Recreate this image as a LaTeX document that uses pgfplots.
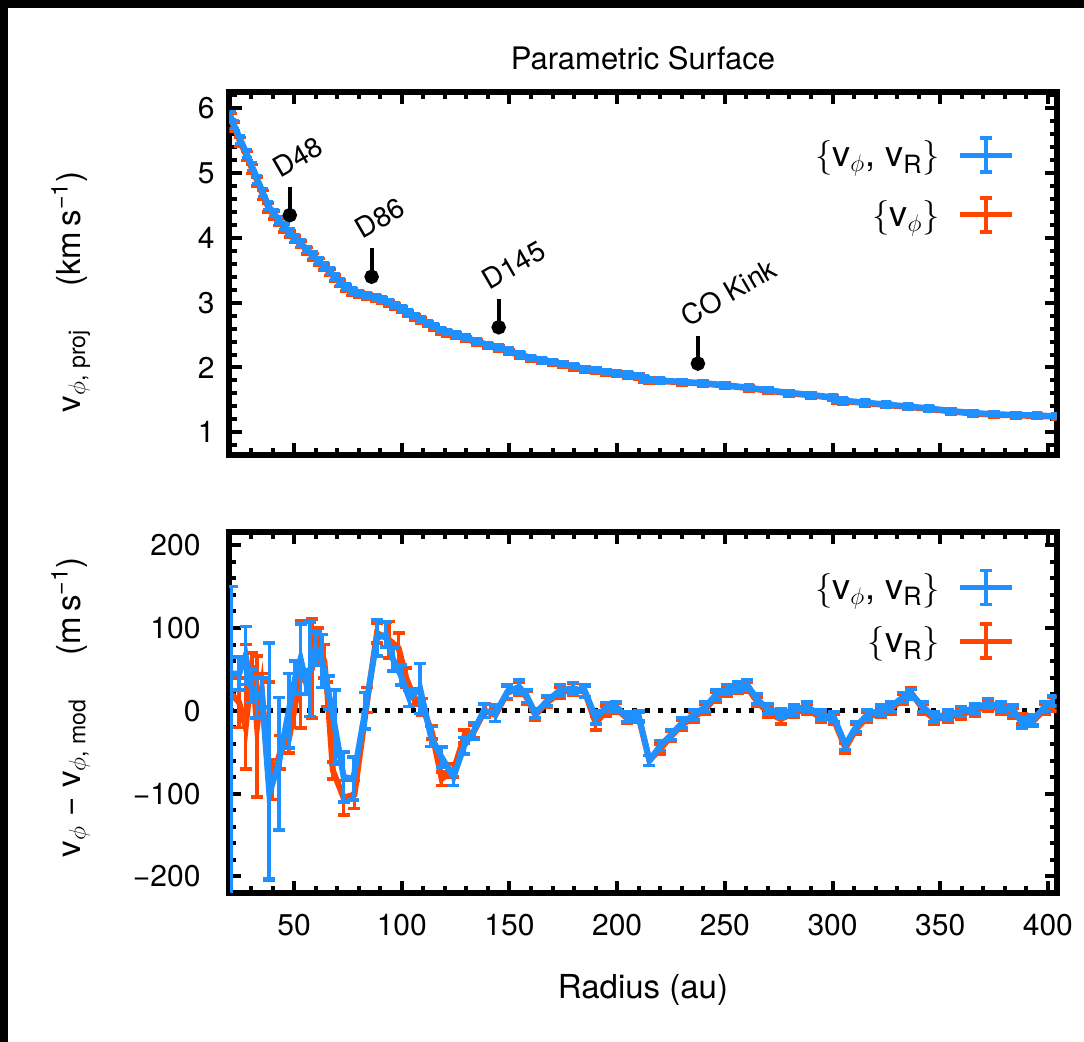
\documentclass[border=0pt]{standalone}
\usepackage{fontspec}
\setmainfont{TeX Gyre Heros}
\usepackage{pgfplots}
\usepackage{pgfplotstable}
\pgfplotsset{compat=1.18}
\definecolor{cblue}{RGB}{30,144,255}
\definecolor{corange}{RGB}{255,69,0}

\pgfplotstableread{
x y ep em
20.5 5.88 0.06 0.06
22 5.75 0.06 0.06
25 5.52 0.06 0.06
28 5.30 0.06 0.06
30.5 5.10 0.06 0.06
33 4.90 0.06 0.06
35.5 4.70 0.06 0.06
38 4.50 0.06 0.06
40.5 4.38 0.05 0.05
43 4.28 0.05 0.05
45.5 4.18 0.05 0.05
48 4.09 0.05 0.05
50.5 4.00 0.05 0.05
53 3.92 0.05 0.05
56 3.82 0.05 0.05
59 3.73 0.05 0.05
61.5 3.65 0.05 0.05
64 3.57 0.05 0.05
66.5 3.49 0.05 0.05
69 3.40 0.05 0.05
71.5 3.32 0.05 0.05
74 3.25 0.05 0.05
77 3.18 0.05 0.05
80 3.15 0.04 0.04
84 3.11 0.04 0.04
88 3.08 0.04 0.04
91 3.05 0.04 0.04
94 3.01 0.04 0.04
97 2.96 0.04 0.04
100 2.91 0.04 0.04
103 2.85 0.04 0.04
106 2.79 0.04 0.04
109 2.74 0.04 0.04
112 2.69 0.04 0.04
115 2.64 0.04 0.04
118 2.58 0.04 0.04
121 2.55 0.04 0.04
125 2.51 0.04 0.04
130 2.46 0.04 0.04
135 2.40 0.04 0.04
140 2.35 0.04 0.04
145 2.31 0.04 0.04
150 2.26 0.04 0.04
155 2.20 0.04 0.04
160 2.15 0.04 0.04
165 2.11 0.04 0.04
170 2.08 0.04 0.04
175 2.05 0.04 0.04
180 2.02 0.04 0.04
185 1.98 0.04 0.04
190 1.96 0.04 0.04
195 1.93 0.04 0.04
200 1.91 0.04 0.04
205 1.89 0.04 0.04
210 1.87 0.04 0.04
212.5 1.83 0.04 0.04
215 1.81 0.04 0.04
220 1.80 0.04 0.04
230 1.78 0.04 0.04
240 1.76 0.04 0.04
250 1.73 0.04 0.04
261 1.69 0.04 0.04
270 1.65 0.04 0.04
280 1.61 0.04 0.04
290 1.58 0.04 0.04
300 1.54 0.04 0.04
302 1.50 0.04 0.04
305 1.49 0.04 0.04
315 1.46 0.04 0.04
325 1.43 0.04 0.04
335 1.40 0.04 0.04
345 1.37 0.04 0.04
355 1.33 0.04 0.04
365 1.30 0.04 0.04
375 1.28 0.04 0.04
385 1.27 0.04 0.04
395 1.26 0.04 0.04
404 1.25 0.04 0.04
}\topblue

\pgfplotstableread{
x y ep em
20.5 5.85 0.07 0.07
22 5.72 0.07 0.07
25 5.48 0.07 0.07
28 5.26 0.07 0.07
30.5 5.06 0.07 0.07
33 4.87 0.07 0.07
35.5 4.66 0.07 0.07
38 4.47 0.07 0.07
40.5 4.35 0.06 0.06
43 4.25 0.06 0.06
45.5 4.15 0.06 0.06
48 4.06 0.05 0.05
50.5 3.98 0.05 0.05
53 3.90 0.05 0.05
56 3.80 0.05 0.05
59 3.71 0.05 0.05
61.5 3.63 0.05 0.05
64 3.55 0.05 0.05
66.5 3.47 0.05 0.05
69 3.38 0.05 0.05
71.5 3.30 0.05 0.05
74 3.23 0.05 0.05
77 3.16 0.05 0.05
80 3.13 0.04 0.04
84 3.09 0.04 0.04
88 3.06 0.04 0.04
91 3.03 0.04 0.04
94 2.99 0.04 0.04
97 2.94 0.04 0.04
100 2.89 0.04 0.04
103 2.83 0.04 0.04
106 2.77 0.04 0.04
109 2.72 0.04 0.04
112 2.67 0.04 0.04
115 2.62 0.04 0.04
118 2.56 0.04 0.04
121 2.53 0.04 0.04
125 2.49 0.04 0.04
130 2.44 0.04 0.04
135 2.38 0.04 0.04
140 2.33 0.04 0.04
145 2.29 0.04 0.04
150 2.24 0.04 0.04
155 2.18 0.04 0.04
160 2.13 0.04 0.04
165 2.10 0.04 0.04
170 2.07 0.04 0.04
175 2.04 0.04 0.04
180 2.00 0.04 0.04
185 1.97 0.04 0.04
190 1.95 0.04 0.04
195 1.92 0.04 0.04
200 1.90 0.04 0.04
205 1.88 0.04 0.04
210 1.86 0.04 0.04
212.5 1.82 0.04 0.04
215 1.80 0.04 0.04
220 1.79 0.04 0.04
230 1.77 0.04 0.04
240 1.75 0.04 0.04
250 1.72 0.04 0.04
261 1.68 0.04 0.04
270 1.64 0.04 0.04
280 1.60 0.04 0.04
290 1.57 0.04 0.04
300 1.53 0.04 0.04
302 1.49 0.04 0.04
305 1.48 0.04 0.04
315 1.45 0.04 0.04
325 1.42 0.04 0.04
335 1.39 0.04 0.04
345 1.36 0.04 0.04
355 1.32 0.04 0.04
365 1.29 0.04 0.04
375 1.27 0.04 0.04
385 1.26 0.04 0.04
395 1.25 0.04 0.04
404 1.24 0.04 0.04
}\toporange

\pgfplotstableread{
x y ep em
21 45 105 270
24.5 45 20 20
27.5 67 35 35
30 30 20 20
32.5 16 25 25
35 22 18 18
38.5 -100 182 103
43 -62 78 82
47.5 0 45 45
50.5 40 20 20
53 63 42 42
55.5 35 15 15
57.5 50 57 57
60 75 20 20
63 60 32 32
66 22 20 20
69 -20 45 45
73 -80 30 30
77.5 -82 26 26
83 0 22 22
88.5 88 22 22
92.5 92 15 15
96 62 14 14
99.5 43 12 12
103.5 15 10 10
108.5 27 30 30
113.5 -31 12 12
118.5 -56 12 12
124 -80 10 10
129 -42 10 10
133.5 -24 10 10
138 0 8 8
143.5 -3 10 10
149 23 8 8
154.5 29 8 8
158 18 8 8
162 -3 6 6
167.5 12 6 6
173.5 25 7 7
179.5 27 7 7
185 24 7 7
190 -8 8 8
195 4 6 6
199.5 5 6 6
204.5 -7 6 6
210 -6 6 6
215 -60 6 6
220 -42 6 6
225 -29 6 6
230 -15 6 6
235.5 -5 6 6
241 5 6 6
246 20 6 6
251 26 6 6
256 29 6 6
260.5 31 6 6
265 14 6 6
270 2 6 6
276 -3 6 6
282 1 6 6
288 5 6 6
294.5 -5 6 6
300.5 -7 6 6
306 -41 6 6
311 -19 6 6
316 -5 6 6
322.5 1 6 6
327 5 6 6
332.5 16 6 6
336.5 20 6 6
342 5 6 6
347 -7 6 6
353.5 -5 6 6
359.5 -1 6 6
366 3 6 6
372 9 6 6
378 5 6 6
384 1 6 6
388 -15 6 6
393 -11 6 6
398.5 5 6 6
402.5 12 6 6
}\botblue

\pgfplotstableread{
x y ep em
21 20 130 250
24.5 10 30 30
27.5 -20 100 50
30.5 55 15 15
32.8 -19 85 85
35 25 20 20
38.3 -85 120 120
40 -83 24 24
43.5 -50 20 20
47.5 -35 16 16
50 0 20 20
53 44 65 65
55.5 35 15 15
58.3 51 60 60
61 80 20 20
64 60 20 20
65.5 20 15 15
68 -72 10 10
73 -105 21 21
78 -101 17 17
84 13 15 15
88.5 94 12 12
94 86 22 22
98.5 76 18 18
102 40 12 12
105.5 17 10 10
109.5 5 10 10
114 -26 8 8
118.5 -82 8 8
124 -72 8 8
129 -31 8 8
133.5 -25 8 8
138.5 0 8 8
143.5 -5 8 8
149 22 8 8
154.5 27 8 8
158 16 8 8
162 -5 6 6
167.5 10 6 6
173.5 22 7 7
179.5 26 7 7
185 23 7 7
190 -15 8 8
195 0 6 6
199.5 3 6 6
204.5 -9 6 6
210 -8 6 6
215 -60 6 6
220 -46 6 6
225 -31 6 6
230 -17 6 6
235.5 -8 6 6
241 2 6 6
246 17 6 6
251 24 6 6
256 27 6 6
260.5 28 6 6
265 11 6 6
270 -2 6 6
276 -10 6 6
282 -2 6 6
288 2 6 6
294.5 -8 6 6
300.5 -10 6 6
306 -45 6 6
311 -22 6 6
316 -8 6 6
322.5 -2 6 6
327 2 6 6
332.5 14 6 6
336.5 22 6 6
342 2 6 6
347 -10 6 6
353.5 -8 6 6
359.5 -4 6 6
366 0 6 6
372 6 6 6
378 2 6 6
384 -3 6 6
388 -10 6 6
393 -13 6 6
398.5 2 6 6
402.5 8 8 8
}\botorange

\pgfplotsset{
  myaxis/.style={
    scale only axis,
    width=413.5pt,
    xmin=20, xmax=404,
    axis line style={line width=3pt},
    tick align=inside, tick pos=both,
    major tick length=6pt, minor tick length=3.5pt,
    every tick/.style={black, line width=2pt},
    xtick={50,100,...,400},
    minor xtick={20,30,...,400},
    tick label style={font=\fontsize{15}{18}\selectfont},
    /pgf/number format/assume math mode=true,
    label style={font=\fontsize{16.5}{20}\selectfont},
    legend style={draw=none, fill=none, font=\fontsize{18}{21}\selectfont, column sep=7pt},
    legend cell align=right,
    legend plot pos=right,
    legend image code/.code={
      \draw[#1, line width=2.4pt] (0pt,0pt) -- (26pt,0pt);
      \draw[#1, line width=1.8pt] (13pt,-8.5pt) -- (13pt,8.5pt);
      \draw[#1, line width=1.8pt] (10pt,-8.5pt) -- (16pt,-8.5pt);
      \draw[#1, line width=1.8pt] (10pt,8.5pt) -- (16pt,8.5pt);
    },
  },
  bstyle/.style={cblue, line width=3pt, mark=none,
    error bars/y dir=both, error bars/y explicit,
    error bars/error bar style={line width=1.8pt, cblue},
    error bars/error mark options={rotate=90, mark size=3pt, line width=1.8pt, cblue}},
  ostyle/.style={corange, line width=3pt, mark=none,
    error bars/y dir=both, error bars/y explicit,
    error bars/error bar style={line width=1.8pt, corange},
    error bars/error mark options={rotate=90, mark size=3pt, line width=1.8pt, corange}},
  pin/.style={black, line width=2pt, mark=*, mark size=2.6pt, mark indices={1}, mark options={solid, fill=black}},
}

\begin{document}
\begin{tikzpicture}
\useasboundingbox (0pt,0pt) rectangle (542pt,521pt);
\fill[black] (0pt,0pt) rectangle (542pt,521pt);
\fill[white] (4pt,0pt) rectangle (542pt,517pt);
\node at (321.5pt,492pt) {\fontsize{15.5}{18}\selectfont Parametric Surface};

\begin{axis}[myaxis,
  at={(114.75pt,293.5pt)}, anchor=south west,
  height=181.5pt,
  ymin=0.65, ymax=6.25,
  ytick={1,2,3,4,5,6},
  minor ytick={0.8,1.0,...,6.2},
  xticklabels={},
  yticklabel style={xshift=-4pt},
  ylabel={v\textsubscript{$\phi$, proj}\hspace{1.3em}(km\,s\textsuperscript{−1})},
  ylabel style={at={(axis description cs:-0.192,0.45)}, anchor=center},
  legend style={at={(0.957,0.89)}, anchor=north east, row sep=11pt},
]
\addlegendimage{cblue}
\addlegendentry{$\{$v\textsubscript{$\phi$}, v\textsubscript{R}$\}$}
\addlegendimage{corange}
\addlegendentry{$\{$v\textsubscript{$\phi$}$\}$}
\addplot[forget plot, ostyle] table[x=x, y=y, y error plus=ep, y error minus=em] {\toporange};
\addplot[forget plot, bstyle, error bars/error mark options={rotate=90, mark size=2.5pt, line width=1.6pt, cblue}] table[x=x, y=y, y error plus=ep, y error minus=em] {\topblue};
\addplot[forget plot, pin] coordinates {(48,4.35) (48,4.78)};
\addplot[forget plot, pin] coordinates {(86,3.40) (86,3.84)};
\addplot[forget plot, pin] coordinates {(145,2.62) (145,3.06)};
\addplot[forget plot, pin] coordinates {(237.5,2.06) (237.5,2.49)};
\node[rotate=30, anchor=base west, inner sep=0pt, xshift=-2pt, yshift=6pt, font=\fontsize{14}{16}\selectfont] at (axis cs:48,4.78) {D48};
\node[rotate=30, anchor=base west, inner sep=0pt, xshift=-2pt, yshift=6pt, font=\fontsize{14}{16}\selectfont] at (axis cs:86,3.84) {D86};
\node[rotate=30, anchor=base west, inner sep=0pt, xshift=-2pt, yshift=6pt, font=\fontsize{14}{16}\selectfont] at (axis cs:145,3.06) {D145};
\node[rotate=30, anchor=base west, inner sep=0pt, xshift=-2pt, yshift=6pt, font=\fontsize{14}{16}\selectfont] at (axis cs:237.5,2.49) {CO Kink};
\end{axis}

\begin{axis}[myaxis,
  at={(114.75pt,74.5pt)}, anchor=south west,
  height=180.5pt,
  ymin=-220, ymax=216,
  ytick={-200,-100,0,100,200},
  yticklabels={−200,−100,0,100,200},
  minor ytick={-200,-180,...,200},
  yticklabel style={xshift=-11pt},
  xticklabel style={yshift=-7pt},
  xlabel={Radius (au)},
  xlabel style={at={(axis description cs:0.5,-0.27)}, anchor=center},
  ylabel={v\textsubscript{$\phi$} − v\textsubscript{$\phi$, mod}\hspace{1.3em}(m\,s\textsuperscript{−1})},
  ylabel style={at={(axis description cs:-0.192,0.515)}, anchor=center},
  legend style={at={(0.957,0.91)}, anchor=north east, row sep=8pt},
]
\addlegendimage{cblue}
\addlegendentry{$\{$v\textsubscript{$\phi$}, v\textsubscript{R}$\}$}
\addlegendimage{corange}
\addlegendentry{$\{$v\textsubscript{R}$\}$}
\addplot[forget plot, black, line width=2.5pt, dash pattern=on 2.5pt off 4pt] coordinates {(20,0) (404,0)};
\addplot[forget plot, ostyle] table[x=x, y=y, y error plus=ep, y error minus=em] {\botorange};
\addplot[forget plot, bstyle] table[x=x, y=y, y error plus=ep, y error minus=em] {\botblue};
\end{axis}
\end{tikzpicture}
\end{document}
